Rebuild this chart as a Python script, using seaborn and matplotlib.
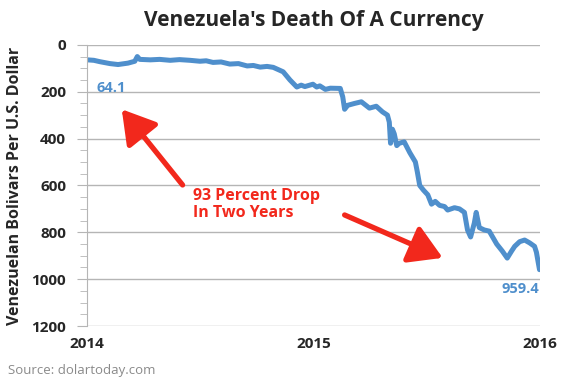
import pandas as pd
import matplotlib.pyplot as plt
import matplotlib.ticker as mticker
import seaborn as sns

# exchange rate, bolivars per US dollar
dates = [
    "2014-01-02", "2014-01-12", "2014-01-22", "2014-02-07", "2014-02-20", "2014-03-08",
    "2014-03-19", "2014-03-23", "2014-03-27", "2014-04-13", "2014-04-28", "2014-05-15",
    "2014-05-30", "2014-06-16", "2014-07-02", "2014-07-12", "2014-07-23", "2014-08-05",
    "2014-08-19", "2014-09-02", "2014-09-16", "2014-09-26", "2014-10-07", "2014-10-18",
    "2014-10-28", "2014-11-13", "2014-11-24", "2014-12-05", "2014-12-12", "2014-12-18",
    "2014-12-31", "2015-01-06", "2015-01-11", "2015-01-20", "2015-01-28", "2015-02-13",
    "2015-02-17", "2015-02-20", "2015-02-25", "2015-03-08", "2015-03-19", "2015-04-01",
    "2015-04-12", "2015-04-22", "2015-04-30", "2015-05-03", "2015-05-05", "2015-05-08",
    "2015-05-11", "2015-05-15", "2015-05-19", "2015-05-27", "2015-06-05", "2015-06-14",
    "2015-06-17", "2015-06-21", "2015-06-27", "2015-07-04", "2015-07-10", "2015-07-16",
    "2015-07-23", "2015-07-31", "2015-08-05", "2015-08-16", "2015-08-24", "2015-09-01",
    "2015-09-06", "2015-09-11", "2015-09-17", "2015-09-20", "2015-09-25", "2015-10-03",
    "2015-10-11", "2015-10-23", "2015-11-01", "2015-11-09", "2015-11-16", "2015-11-21",
    "2015-11-29", "2015-12-07", "2015-12-15", "2015-12-23", "2015-12-26", "2015-12-29",
    "2015-12-31",
]
bolivars = [
    64.1, 66, 72, 80, 84, 78,
    70, 50, 62, 64, 62, 66,
    63, 66, 70, 68, 75, 73,
    82, 80, 90, 88, 95, 92,
    96, 115, 150, 180, 172, 178,
    168, 180, 175, 190, 185, 186,
    222, 275, 258, 250, 243, 270,
    262, 286, 300, 330, 420, 360,
    380, 430, 420, 414, 460, 500,
    540, 600, 620, 640, 680, 668,
    685, 690, 705, 695, 700, 715,
    790, 820, 760, 715, 780, 790,
    795, 850, 880, 910, 880, 860,
    840, 833, 845, 860, 885, 930,
    959.4,
]
year_ticks = ["2014-01-01", "2015-01-01", "2016-01-01"]
year_labels = ["2014", "2015", "2016"]

df = pd.DataFrame({"date": pd.to_datetime(dates), "rate": bolivars})

sns.set_style("white")
plt.rcParams["font.family"] = ["Open Sans", "DejaVu Sans"]

fig = plt.figure(figsize=(5.65, 3.9), dpi=100)
ax = fig.add_axes([0.154, 0.164, 0.802, 0.721])

blue = "#4F8FCC"
red = "#F2281C"
sns.lineplot(data=df, x="date", y="rate", ax=ax, color=blue, linewidth=3.6)

ax.set_xlim(pd.Timestamp("2014-01-01"), pd.Timestamp("2016-01-01"))
ax.set_ylim(1200, 0)
ax.yaxis.set_major_locator(mticker.MultipleLocator(200))
ax.yaxis.set_minor_locator(mticker.MultipleLocator(50))
ax.set_xticks(pd.to_datetime(year_ticks))
ax.set_xticklabels(year_labels, fontweight="bold", fontsize=11)
for lab in ax.get_yticklabels():
    lab.set_fontweight("bold")
    lab.set_fontsize(11)

ax.grid(axis="y", color="#B5B5B5", linewidth=1)
ax.tick_params(axis="y", which="both", direction="out", left=True, color="#B5B5B5",
               pad=8)
ax.tick_params(axis="y", which="major", length=7)
ax.tick_params(axis="y", which="minor", length=5)
ax.tick_params(axis="x", length=0, pad=8)
for s in ["top", "right", "bottom"]:
    ax.spines[s].set_visible(False)
ax.spines["left"].set_color("#B5B5B5")

ax.set_xlabel("")
ax.set_ylabel("Venezuelan Bolivars Per U.S. Dollar", fontweight="bold", fontsize=11.5,
              labelpad=6)
fig.suptitle("Venezuela's Death Of A Currency", fontweight="bold", fontsize=15,
             x=0.555, y=0.975)

# value labels
ax.text(pd.Timestamp("2014-01-16"), 184, "64.1", color=blue, fontweight="bold",
        fontsize=10.5, va="center")
ax.text(pd.Timestamp("2015-12-31"), 1040, "959.4", color=blue, fontweight="bold",
        fontsize=10.5, va="center", ha="right")

# annotation with arrows
ax.text(pd.Timestamp("2014-06-20"), 680, "93 Percent Drop\nIn Two Years", color=red,
        fontweight="bold", fontsize=11.5, va="center", linespacing=1.1)
arrow = dict(arrowstyle="-|>,head_length=2.0,head_width=1.2", color=red, lw=3.8,
             shrinkA=0, shrinkB=0)
ax.annotate("", xy=(pd.Timestamp("2014-02-26"), 275),
            xytext=(pd.Timestamp("2014-06-04"), 598), arrowprops=arrow)
ax.annotate("", xy=(pd.Timestamp("2015-07-28"), 909),
            xytext=(pd.Timestamp("2015-02-20"), 726), arrowprops=arrow)

fig.text(0.014, 0.04, "Source: dolartoday.com", color="#8A8A8A", fontsize=9.5)

fig.savefig("out.png", dpi=100)
